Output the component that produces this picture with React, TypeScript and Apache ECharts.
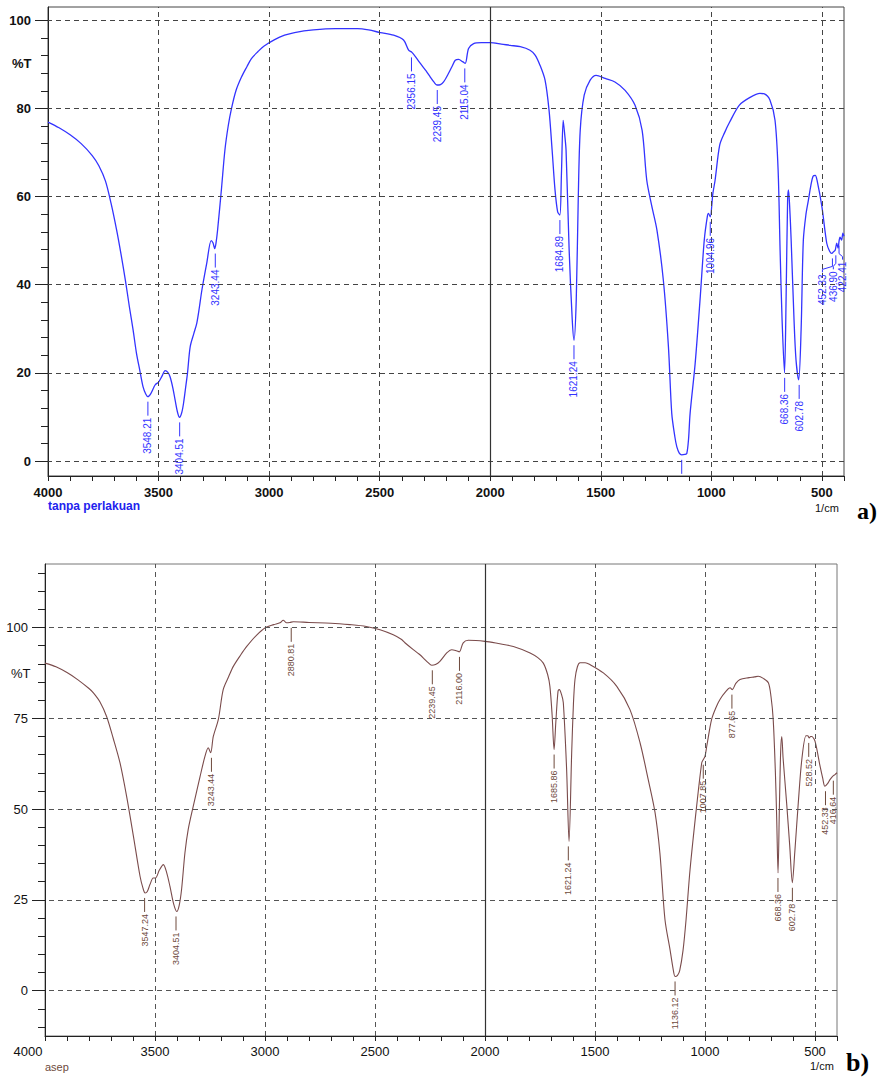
import React, { useEffect, useRef } from "react";
import * as echarts from "echarts";

// ---------- Spectrum a) "tanpa perlakuan" ----------
const WN_A = [4000,3950,3900,3850,3800,3770,3740,3715,3690,3670,3650,3632,3615,3600,3585,3570,3558,3548,3535,3515,3500,3485,3470,3458,3448,3435,3425,3414,3405,3395,3387,3378,3369,3357,3340,3327,3315,3304,3282,3262,3254,3246,3240,3233,3215,3200,3185,3170,3150,3125,3100,3080,3050,3024,2975,2930,2885,2800,2700,2600,2550,2497,2437,2392,2369,2354,2335,2316,2290,2271,2255,2241,2225,2211,2189,2170,2158,2143,2125,2113,2098,2075,2040,2000,1950,1910,1864,1820,1797,1775,1752,1734,1720,1707,1695,1685,1678,1670,1663,1657,1643,1629,1621,1611,1602,1593,1575,1548,1521,1480,1436,1390,1345,1313,1292,1270,1246,1217,1194,1179,1165,1156,1145,1134,1120,1111,1103,1096,1073,1050,1032,1018,1013,1005,993,983,962,940,917,874,825,780,760,735,712,698,689,680,669,662,655,651,646,639,626,617,605,594,584,572,561,550,540,530,522,500,478,465,455,447,440,433,427,422,418,411,405,400];
const T_A = [76.9,75.6,74.0,72.0,69.3,67.0,63.5,58.5,52.5,47,41,35,29.7,24.5,20.6,16.8,15.2,14.6,15.3,17.3,17.9,19.2,20.5,20.1,19.1,16.5,13.8,11,9.9,11,13.1,16.5,20,25.9,29,31.3,35,38.8,44.9,50,49.5,48.2,49.5,52.4,62,70.5,76,80,84,87.1,89.5,91.3,92.9,94.1,95.6,96.6,97.2,97.8,98.1,98.1,97.8,97.2,96.6,95.5,93.2,92.7,91.5,90.2,88.5,87.1,86,85.3,85.4,86,87.9,89.8,90.9,91.1,90.6,90.2,93.6,94.7,94.9,94.9,94.6,94.3,94.0,93.2,92.1,89.8,86.4,79.6,70.5,61.5,56.5,55.8,65,77.3,74,70.5,47.8,32,27.4,36.5,59.2,75,83,86.4,87.5,86.8,86,84.1,80.7,75,63.7,58,52.4,41,25.9,10.8,5.5,3.2,1.8,1.4,1.5,1.7,5,10.8,22.2,37.3,50.1,55.5,56.2,55.4,60.7,63.7,71.7,74.5,76.9,80.7,82.5,83.4,83.3,81.9,77.3,66,47.8,32,20,36.5,59.2,61.5,58,50.1,32,22.9,18.4,29.7,50,56,59.2,62.5,64.6,64.8,63.7,57.7,49.4,47.6,47.1,47.5,47.8,49.4,48.3,50,50.8,50.1,51.7,51];
const PEAK_A_WN = [3548.21,3404.51,3243.44,2356.15,2239.45,2115.04,1684.89,1621.24,1134,1004.96,668.36,602.78,452.33,436.9,422.41];
const PEAK_A_T = [14.6,9.9,48.2,92.7,85.3,90.2,55.8,27.4,1.4,55.4,20,18.4,47.1,47.8,50];
const PEAK_A_LABEL = ["3548.21","3404.51","3243.44","2356.15","2239.45","2115.04","1684.89","1621.24","","1004.96","668.36","602.78","452.33","436.90","422.41"];

// ---------- Spectrum b) "asep" ----------
const WN_B = [4000,3950,3900,3850,3800,3780,3750,3720,3690,3659,3629,3598,3568,3555,3545,3535,3523,3508,3498,3480,3462,3447,3432,3415,3401,3390,3379,3364,3349,3326,3295,3273,3258,3247,3235,3212,3190,3165,3144,3110,3083,3040,2997,2960,2932,2917,2902,2887,2871,2800,2700,2614,2540,2477,2417,2379,2364,2326,2300,2280,2260,2242,2225,2205,2174,2151,2130,2117,2099,2076,2000,1940,1871,1795,1760,1735,1715,1705,1695,1686,1678,1668,1662,1652,1644,1629,1618,1606,1598,1591,1580,1568,1545,1523,1462,1401,1341,1295,1258,1227,1205,1182,1159,1145,1136,1125,1115,1100,1086,1068,1038,1015,1008,1000,992,970,950,932,905,886,876,860,841,800,775,758,735,712,700,690,680,674,668,662,656,651,645,629,615,603,592,576,560,541,533,526,520,515,500,477,465,455,443,432,420,409,400];
const T_B = [90.2,89.2,87.6,85.6,83.2,82,79.5,75.5,69.5,62.7,53.5,42.5,31.5,28.3,26.9,27.3,29.2,31,31,33.2,34.7,32.5,28.7,23.8,21.8,23.5,28,37.9,44.4,50.8,59,64.5,66.9,65.5,70,74.7,82.9,86.5,89.3,92.5,94.8,97.8,100,100.8,101.3,102,101.3,101.4,101.6,101.4,101.2,100.8,100.3,99.4,98,96.7,95.8,93.9,92.7,91.6,90.4,89.6,89.8,90.7,93,93.9,93.6,93.3,95.8,96.5,96.2,95.6,94.8,93,91.7,90.2,87,83.8,76,66.4,74,82.5,82.9,81.5,79.3,60.9,41.1,65.5,79,85.7,89.2,90.3,90.3,89.8,87.5,83.8,77.4,68.2,58.1,49,37.9,19.6,11.3,6,3.9,4.2,5.5,11,19.6,33.3,50.8,62.7,63.6,64.5,67.3,74.7,78,80.2,82.4,83.4,82.9,84.6,85.7,86.2,86.4,86.6,86,84.8,81,74.7,60,47.1,32.4,50,66,70,64,51.7,40,29.7,38,51.7,63.6,70.2,70.2,69.6,70,70,68.7,61.8,58.5,56.3,57,58.1,59,59.5,60];
const PEAK_B_WN = [3547.24,3404.51,3243.44,2880.81,2239.45,2116.0,1685.86,1621.24,1136.12,1007.85,877.65,668.36,602.78,528.52,452.33,416.64];
const PEAK_B_T = [26.9,21.8,65.5,101.3,89.6,93.3,66.4,41.1,3.9,63.6,82.9,32.4,29.7,69.6,56.3,59.2];
const PEAK_B_LABEL = ["3547.24","3404.51","3243.44","2880.81","2239.45","2116.00","1685.86","1621.24","1136.12","1007.85","877.65","668.36","602.78","528.52","452.33","416.64"];

// ---------- Axes / grid values ----------
const X_LABELS = [4000,3500,3000,2500,2000,1500,1000,500];
const X_GRID_DASHED = [3500,3000,2500,1500,1000,500];
const X_GRID_SOLID = [2000];
const Y_LABELS_A = [0,20,40,60,80,100];
const Y_LABELS_B = [0,25,50,75,100];

const range = (a: number, b: number, s: number) => { const r: number[] = []; for (let v = a; v <= b + 1e-9; v += s) r.push(v); return r; };
const X_TICKS = range(400, 4000, 100);
const Y_MINOR_A = range(0, 100, 4);
const Y_MINOR_B = range(-10, 115, 5);

const Y_MIN_A = -3.4, Y_MAX_A = 103;
const Y_MIN_B = -12.5, Y_MAX_B = 117.5;

const BLUE = "#3333ff";
const BROWN = "#7a4b4b";
const BROWN_TXT = "#6e4a3c";
const FONT = 'Arial, "Liberation Sans", sans-serif';

// label leader offsets for crowded labels (pixels)
const SHIFT_A: Record<string, number> = { "452.33": -10, "436.90": -2.5, "422.41": 3.5 };

function peakSeries(xi: number, wn: number[], t: number[], labels: string[], color: string, font: string, yMin: number, shift: Record<string, number>) {
  return {
    type: "custom",
    xAxisIndex: xi,
    yAxisIndex: xi * 2,
    silent: true,
    z: 5,
    data: wn.map((w, i) => [w, t[i], i]),
    renderItem: (_p: any, api: any) => {
      const idx = api.value(2) as number;
      const pt = api.coord([api.value(0), api.value(1)]);
      const px = pt[0], py = pt[1];
      const yBottom = api.coord([api.value(0), yMin])[1];
      const label = labels[idx];
      const dx = shift[label] || 0;
      const y1 = py + 5;
      const y2 = Math.min(py + 19, yBottom);
      const children: any[] = [];
      if (dx === 0) {
        children.push({ type: "line", shape: { x1: px, y1, x2: px, y2 }, style: { stroke: color, lineWidth: 1 } });
      } else {
        children.push({ type: "polyline", shape: { points: [[px, y1], [px, y1 + 8], [px + dx, y1 + 11], [px + dx, y2]] }, style: { stroke: color, fill: null, lineWidth: 1 } });
      }
      if (label && y2 < yBottom) {
        children.push({
          type: "text", x: px + dx, y: y2 + 2, rotation: Math.PI / 2,
          style: { text: label, fill: color, font, align: "right", verticalAlign: "middle" },
        });
      }
      return { type: "group", children };
    },
  };
}

function gridMarks(color: string, yVals: number[]) {
  return {
    silent: true,
    symbol: "none",
    label: { show: false },
    lineStyle: { color, type: [5, 4], width: 1 },
    data: [
      ...X_GRID_DASHED.map((v) => ({ xAxis: v })),
      ...yVals.map((v) => ({ yAxis: v })),
      ...X_GRID_SOLID.map((v) => ({ xAxis: v, lineStyle: { type: "solid", color: "#333", width: 1.2 } })),
    ],
  };
}

export default function App() {
  const ref = useRef<HTMLDivElement>(null);
  useEffect(() => {
    if (!ref.current) return;
    const chart = echarts.init(ref.current, undefined, { renderer: "svg" });
    const xAxisCommon = (bold: boolean, gi: number, last4000Pad: boolean) => ({
      type: "value", gridIndex: gi, min: 400, max: 4000, inverse: true, position: "bottom",
      axisLine: { show: true, onZero: false, lineStyle: { color: "#222", width: 1 } },
      axisTick: { show: true, customValues: X_TICKS, length: 5, lineStyle: { color: "#222" } },
      axisLabel: {
        customValues: X_LABELS, margin: bold ? 10 : 9, color: "#111",
        fontFamily: FONT, fontSize: 13, fontWeight: bold ? "bold" : "normal",
        formatter: (v: number) => (last4000Pad && v === 4000 ? "{p|4000}" : String(v)),
        rich: { p: { padding: [0, 34, 0, 0], fontFamily: FONT, fontSize: 13, color: "#111" } },
      },
      splitLine: { show: false },
    });
    const yMajor = (gi: number, min: number, max: number, labels: number[], bold: boolean) => ({
      type: "value", gridIndex: gi, min, max, position: "left",
      axisLine: { show: true, onZero: false, lineStyle: { color: "#222", width: 1 } },
      axisTick: { show: true, customValues: labels, length: 13, lineStyle: { color: "#222" } },
      axisLabel: { customValues: labels, margin: 17, color: "#111", fontFamily: FONT, fontSize: 13, fontWeight: bold ? "bold" : "normal" },
      splitLine: { show: false },
    });
    const yMinor = (gi: number, min: number, max: number, ticks: number[]) => ({
      type: "value", gridIndex: gi, min, max, position: "left",
      axisLine: { show: false },
      axisTick: { show: true, customValues: ticks, length: 7, lineStyle: { color: "#222" } },
      axisLabel: { show: false },
      splitLine: { show: false },
    });
    const option: any = {
      animation: false,
      grid: [
        { left: 48, top: 7, width: 796, height: 469, show: true, borderColor: "#444", borderWidth: 1, backgroundColor: "transparent" },
        { left: 45, top: 564, width: 792, height: 472, show: true, borderColor: "#777", borderWidth: 1, backgroundColor: "transparent" },
      ],
      xAxis: [xAxisCommon(true, 0, false), xAxisCommon(false, 1, true)],
      yAxis: [
        yMajor(0, Y_MIN_A, Y_MAX_A, Y_LABELS_A, true),
        yMinor(0, Y_MIN_A, Y_MAX_A, Y_MINOR_A),
        yMajor(1, Y_MIN_B, Y_MAX_B, Y_LABELS_B, false),
        yMinor(1, Y_MIN_B, Y_MAX_B, Y_MINOR_B),
      ],
      series: [
        {
          type: "line", xAxisIndex: 0, yAxisIndex: 0, showSymbol: false, smooth: 0.3, z: 3,
          lineStyle: { color: BLUE, width: 1.3 },
          data: WN_A.map((w, i) => [w, T_A[i]]),
          markLine: gridMarks("#444", Y_LABELS_A),
        },
        {
          type: "line", xAxisIndex: 1, yAxisIndex: 2, showSymbol: false, smooth: 0.3, z: 3,
          lineStyle: { color: BROWN, width: 1.1 },
          data: WN_B.map((w, i) => [w, T_B[i]]),
          markLine: gridMarks("#555", Y_LABELS_B),
        },
        peakSeries(0, PEAK_A_WN, PEAK_A_T, PEAK_A_LABEL, BLUE, "10px " + FONT, Y_MIN_A, SHIFT_A),
        peakSeries(1, PEAK_B_WN, PEAK_B_T, PEAK_B_LABEL, BROWN_TXT, "9px " + FONT, Y_MIN_B, {}),
      ],
      graphic: [
        { type: "text", left: 12, top: 57, style: { text: "%T", font: "bold 13px " + FONT, fill: "#111" } },
        { type: "text", left: 11, top: 667, style: { text: "%T", font: "13px " + FONT, fill: "#111" } },
        { type: "text", left: 48, top: 500, style: { text: "tanpa perlakuan", font: "bold 12px " + FONT, fill: "#2222ee" } },
        { type: "text", left: 45, top: 1061, style: { text: "asep", font: "11px " + FONT, fill: BROWN_TXT } },
        { type: "text", left: 815, top: 502, style: { text: "1/cm", font: "11px " + FONT, fill: "#111" } },
        { type: "text", left: 810, top: 1060, style: { text: "1/cm", font: "11px " + FONT, fill: "#111" } },
        { type: "text", left: 857, top: 499, style: { text: "a)", font: "bold 24px 'Liberation Serif', 'DejaVu Serif', serif", fill: "#000" } },
        { type: "text", left: 846, top: 1049, style: { text: "b)", font: "bold 26px 'Liberation Serif', 'DejaVu Serif', serif", fill: "#000" } },
      ],
    };
    chart.setOption(option);
    return () => chart.dispose();
  }, []);
  return <div ref={ref} style={{ position: "absolute", left: 0, top: 0, width: 880, height: 1077, background: "#fff" }} />;
}
